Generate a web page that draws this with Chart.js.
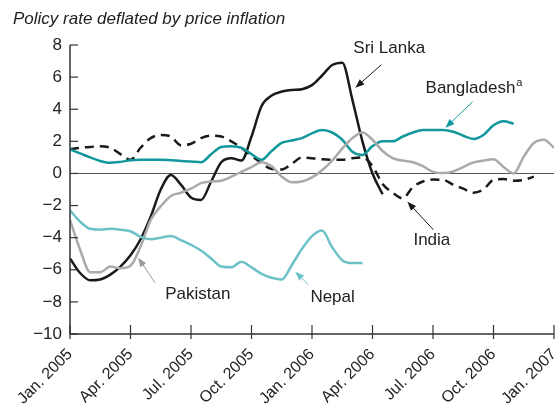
<!DOCTYPE html>
<html>
<head>
<meta charset="utf-8">
<script src="https://cdn.jsdelivr.net/npm/chart.js@4.4.0/dist/chart.umd.min.js"></script>
<style>
  html, body { margin: 0; padding: 0; background: #fff; }
</style>
</head>
<body>
<canvas id="chart" width="557" height="408"></canvas>
<script>
"use strict";

// x positions are months after Jan. 2005, sampled every half month
var months = [0, 0.5, 1, 1.5, 2, 2.5, 3, 3.5, 4, 4.5, 5, 5.5, 6, 6.5, 7, 7.5, 8, 8.5, 9, 9.5,
  10, 10.5, 11, 11.5, 12, 12.5, 13, 13.5, 14, 14.5, 15, 15.5, 16, 16.5, 17, 17.5, 18, 18.5, 19, 19.5,
  20, 20.5, 21, 21.5, 22, 22.5, 23, 23.5, 24];

var tickMonths = [0, 3, 6, 9, 12, 15, 18, 21, 24];
var tickLabels = ['Jan. 2005', 'Apr. 2005', 'Jul. 2005', 'Oct. 2005', 'Jan. 2006',
  'Apr. 2006', 'Jul. 2006', 'Oct. 2006', 'Jan. 2007'];

var sriLanka = [-5.3, -6.2, -6.65, -6.6, -6.3, -5.8, -5.1, -4.1, -2.7, -1.0,
  -0.1, -0.7, -1.5, -1.65, -0.5, 0.7, 0.95, 0.8, 2.3, 4.2,
  4.85, 5.1, 5.2, 5.25, 5.5, 6.1, 6.75, 6.9, 4.6, 2.0,
  0.0, -1.3];

var bangladesh = [1.5, 1.25, 1.0, 0.78, 0.66, 0.72, 0.82, 0.85, 0.85, 0.85,
  0.82, 0.78, 0.75, 0.7, 1.2, 1.65, 1.7, 1.6, 1.2, 0.85,
  1.4, 1.9, 2.05, 2.2, 2.5, 2.7, 2.55, 2.1, 1.35, 1.15,
  1.7, 2.0, 2.0, 2.3, 2.55, 2.7, 2.7, 2.7, 2.6, 2.35,
  2.15, 2.4, 3.0, 3.25, 3.1];

var india = [1.5, 1.6, 1.65, 1.7, 1.6, 1.2, 0.85, 1.6, 2.2, 2.4,
  2.3, 1.75, 1.85, 2.2, 2.35, 2.3, 2.0, 1.6, 1.1, 0.65,
  0.27, 0.25, 0.6, 1.0, 0.95, 0.88, 0.85, 0.85, 0.95, 1.0,
  0.45, -0.65, -1.2, -1.55, -0.85, -0.5, -0.38, -0.4, -0.7, -0.95,
  -1.2, -1.0, -0.4, -0.35, -0.45, -0.4, -0.2];

var pakistan = [-2.9, -4.75, -6.15, -6.15, -5.8, -5.9, -5.75, -4.55, -2.9, -2.05,
  -1.4, -1.2, -0.95, -0.6, -0.5, -0.45, -0.2, 0.1, 0.4, 0.7,
  0.45, -0.2, -0.55, -0.5, -0.25, 0.2, 0.8, 1.55, 2.2, 2.55,
  2.1, 1.4, 0.95, 0.8, 0.7, 0.45, 0.1, 0.02, 0.12, 0.4,
  0.68, 0.8, 0.88, 0.4, 0.0, 1.05, 1.9, 2.1, 1.6];

var nepal = [-2.3, -3.0, -3.45, -3.5, -3.45, -3.5, -3.6, -3.95, -4.1, -4.0,
  -3.9, -4.15, -4.45, -4.8, -5.3, -5.8, -5.85, -5.5, -5.85, -6.25,
  -6.5, -6.6, -5.7, -4.7, -3.9, -3.55, -4.6, -5.4, -5.58, -5.58];

var FONT = '"Liberation Sans", Arial, Helvetica, sans-serif';

function points(values) {
  return values.map(function(v, i) { return { x: months[i], y: v }; });
}

function series(label, values, color, dash) {
  return {
    label: label,
    data: points(values),
    borderColor: color,
    borderWidth: 2.5,
    borderDash: dash || [],
    pointRadius: 0,
    fill: false,
    cubicInterpolationMode: 'monotone'
  };
}

// callouts, placed in data units: text anchor, arrow tail, arrow tip
var callouts = [
  { text: 'Sri Lanka', color: '#1a1a1a', tx: 14.05, ty: 7.52, ax: 15.44, ay: 6.77, bx: 14.15, by: 5.34 },
  { text: 'Bangladesh', sup: 'a', color: '#12979c', tx: 17.63, ty: 5.03, ax: 19.96, ay: 4.46, bx: 18.62, by: 2.85 },
  { text: 'India', color: '#1a1a1a', tx: 17.03, ty: -4.44, ax: 18.02, ay: -3.51, bx: 16.73, by: -1.76 },
  { text: 'Pakistan', color: '#9a9a9a', tx: 4.72, ty: -7.8, ax: 4.22, ay: -6.81, bx: 3.38, by: -5.25 },
  { text: 'Nepal', color: '#6cc2c7', tx: 11.92, ty: -7.99, ax: 11.82, ay: -6.93, bx: 11.17, by: -6.12 }
];

function drawArrow(ctx, x1, y1, x2, y2, color) {
  var ang = Math.atan2(y2 - y1, x2 - x1);
  var len = 9, half = 3.5;
  ctx.save();
  ctx.strokeStyle = color;
  ctx.fillStyle = color;
  ctx.lineWidth = 1;
  ctx.beginPath();
  ctx.moveTo(x1, y1);
  ctx.lineTo(x2 - Math.cos(ang) * len * 0.8, y2 - Math.sin(ang) * len * 0.8);
  ctx.stroke();
  ctx.beginPath();
  ctx.moveTo(x2, y2);
  ctx.lineTo(x2 - Math.cos(ang) * len + Math.sin(ang) * half, y2 - Math.sin(ang) * len - Math.cos(ang) * half);
  ctx.lineTo(x2 - Math.cos(ang) * len - Math.sin(ang) * half, y2 - Math.sin(ang) * len + Math.cos(ang) * half);
  ctx.closePath();
  ctx.fill();
  ctx.restore();
}

var decorPlugin = {
  id: 'decor',
  beforeDatasetsDraw: function(chart) {
    var ctx = chart.ctx, a = chart.chartArea, ys = chart.scales.y;
    var y0 = Math.round(ys.getPixelForValue(0)) + 0.5;
    ctx.save();
    ctx.strokeStyle = '#555';
    ctx.lineWidth = 1;
    ctx.beginPath();
    ctx.moveTo(a.left, y0);
    ctx.lineTo(a.right, y0);
    ctx.stroke();
    ctx.restore();
  },
  afterDatasetsDraw: function(chart) {
    var ctx = chart.ctx, a = chart.chartArea, xs = chart.scales.x, ys = chart.scales.y;
    ctx.save();
    ctx.strokeStyle = '#333';
    ctx.lineWidth = 1.5;
    ctx.beginPath();
    ctx.moveTo(a.left, a.top);
    ctx.lineTo(a.left, a.bottom);
    ctx.lineTo(a.right, a.bottom);
    ctx.stroke();
    ctx.lineWidth = 1.2;
    ys.ticks.forEach(function(t) {
      var py = ys.getPixelForValue(t.value);
      ctx.beginPath();
      ctx.moveTo(a.left, py);
      ctx.lineTo(a.left + 8, py);
      ctx.stroke();
    });
    xs.ticks.forEach(function(t) {
      var px = xs.getPixelForValue(t.value);
      ctx.beginPath();
      ctx.moveTo(px, a.bottom - 9);
      ctx.lineTo(px, a.bottom + 5);
      ctx.stroke();
    });
    ctx.restore();
  },
  afterDraw: function(chart) {
    var ctx = chart.ctx, xs = chart.scales.x, ys = chart.scales.y;
    ctx.save();
    ctx.fillStyle = '#222';
    ctx.textBaseline = 'alphabetic';
    ctx.textAlign = 'left';
    ctx.font = 'italic 17px ' + FONT;
    ctx.fillText('Policy rate deflated by price inflation', 13, 24);

    callouts.forEach(function(c) {
      drawArrow(ctx, xs.getPixelForValue(c.ax), ys.getPixelForValue(c.ay),
        xs.getPixelForValue(c.bx), ys.getPixelForValue(c.by), c.color);
      var tx = xs.getPixelForValue(c.tx), ty = ys.getPixelForValue(c.ty);
      ctx.fillStyle = '#222';
      ctx.font = '17px ' + FONT;
      ctx.fillText(c.text, tx, ty);
      if (c.sup) {
        var w = ctx.measureText(c.text).width;
        ctx.font = '11px ' + FONT;
        ctx.fillText(c.sup, tx + w + 1, ty - 7);
      }
    });
    ctx.restore();
  }
};

new Chart(document.getElementById('chart'), {
  type: 'line',
  data: {
    datasets: [
      series('Nepal', nepal, '#6cc2c7'),
      series('Pakistan', pakistan, '#aaaaaa'),
      series('Bangladesh', bangladesh, '#12979c'),
      series('India', india, '#1a1a1a', [9, 6]),
      series('Sri Lanka', sriLanka, '#1a1a1a')
    ]
  },
  options: {
    responsive: false,
    animation: false,
    events: [],
    layout: { padding: { top: 45, right: 3, left: 0, bottom: 0 } },
    plugins: {
      legend: { display: false },
      tooltip: { enabled: false },
      title: { display: false }
    },
    scales: {
      x: {
        type: 'linear',
        min: 0,
        max: 24,
        grid: { display: false, drawTicks: false },
        border: { display: false },
        ticks: {
          stepSize: 3,
          autoSkip: false,
          maxRotation: 45,
          minRotation: 45,
          padding: 11,
          color: '#222',
          font: { family: FONT, size: 16 },
          callback: function(v) {
            var i = tickMonths.indexOf(v);
            return i < 0 ? '' : tickLabels[i];
          }
        },
        afterFit: function(scale) {
          scale.height = 74;
          scale.paddingLeft = 0;
          scale.paddingRight = 0;
        }
      },
      y: {
        min: -10,
        max: 8,
        grid: { display: false, drawTicks: false },
        border: { display: false },
        ticks: {
          stepSize: 2,
          padding: 8,
          color: '#222',
          font: { family: FONT, size: 17 },
          callback: function(v) {
            return v < 0 ? '\u2212' + Math.abs(v) : String(v);
          }
        },
        afterFit: function(scale) {
          scale.width = 70;
          scale.paddingTop = 0;
          scale.paddingBottom = 0;
        }
      }
    }
  },
  plugins: [decorPlugin]
});
</script>
</body>
</html>
